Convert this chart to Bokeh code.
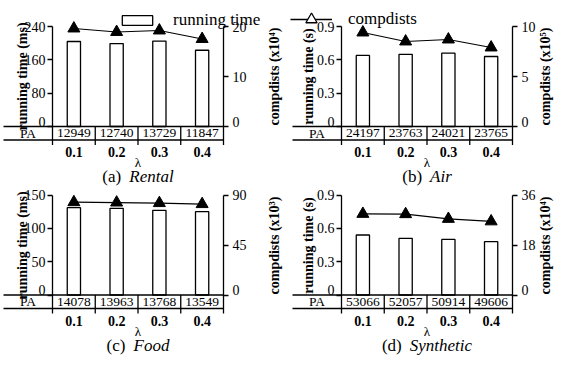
from bokeh.plotting import figure
from bokeh.layouts import column, row
from bokeh.models import Range1d, LinearAxis, FixedTicker, Legend, LegendItem
from bokeh.core.properties import value
from bokeh.embed import file_html
from bokeh.resources import INLINE

FONT = "Liberation Serif"

lambdas = ["0.1", "0.2", "0.3", "0.4"]

rental_time = [204, 199, 205, 183]
rental_comp = [19.6, 18.9, 19.2, 17.5]
rental_pa = [12949, 12740, 13729, 11847]

air_time = [0.64, 0.65, 0.66, 0.63]
air_comp = [9.4, 8.5, 8.7, 7.9]
air_pa = [24197, 23763, 24021, 23765]

food_time = [131, 130, 127, 125]
food_comp = [83.5, 83.2, 82.7, 81.8]
food_pa = [14078, 13963, 13768, 13549]

syn_time = [0.54, 0.51, 0.50, 0.48]
syn_comp = [29.2, 29.1, 27.4, 26.5]
syn_pa = [53066, 52057, 50914, 49606]

ms_ticks_a = [0, 80, 160, 240]
ms_ticks_c = [0, 50, 100, 150]
s_ticks = [0, 0.3, 0.6, 0.9]
comp_ticks_a = [0, 10, 20]
comp_ticks_b = [0, 5, 10]
comp_ticks_c = [0, 45, 90]
comp_ticks_d = [0, 18, 36]

PX = 42.75          # pixels per lambda slot
CHART_H = 100       # pixels from 0 to the top tick
LAB_SHIFT = 18      # distance from a label axis location to its label centre

REG = {"(": 0.333, ")": 0.333, "a": 0.444, "b": 0.5, "c": 0.444, "d": 0.5}
ITA = {"R": 0.611, "e": 0.444, "n": 0.5, "t": 0.278, "a": 0.5, "l": 0.278,
       "A": 0.611, "i": 0.278, "r": 0.389, "F": 0.611, "o": 0.5, "d": 0.5,
       "S": 0.5, "y": 0.444, "h": 0.5, "c": 0.444}


def tw(s, tab, size):
    return sum(tab.get(ch, 0.5) for ch in s) * size


def tick_axis(ax):
    ax.major_label_text_font = FONT
    ax.major_label_text_font_size = "14px"
    ax.major_label_text_color = "black"
    ax.major_tick_out = 5
    ax.major_tick_in = 0
    ax.minor_tick_out = 0
    ax.minor_tick_in = 0
    ax.axis_line_width = 1.3
    ax.major_tick_line_width = 1.3
    ax.axis_line_color = "black"
    ax.major_tick_line_color = "black"
    ax.major_label_overrides = {0: ""}


def label_axis(p, text, loc):
    ax = LinearAxis(y_range_name="px", ticker=FixedTicker(ticks=[]), bounds=(0, CHART_H),
                    fixed_location=loc, axis_label=text, axis_label_standoff=0,
                    major_tick_out=0, major_tick_in=0, minor_tick_out=0, minor_tick_in=0,
                    axis_line_color=None, major_tick_line_color=None, minor_tick_line_color=None)
    ax.axis_label_text_font = FONT
    ax.axis_label_text_font_size = "14px"
    ax.axis_label_text_font_style = "bold"
    ax.axis_label_text_color = "black"
    p.add_layout(ax, "left")


def txt(p, xs, ys, texts, size, style="normal", align="center", x_offset=0):
    p.text(x=xs, y=ys, text=texts, y_range_name="px", x_offset=x_offset,
           text_font=value(FONT), text_font_size=size, text_font_style=style,
           text_align=align, text_baseline="middle", text_color="black")


def make_panel(times, comps, pa, t_ticks, t_label, c_ticks, c_label, letter, name,
               width, height, axis_px, top_px, left_lab, right_lab):
    n = len(times)
    xs = list(range(n))
    x0 = -0.5 - axis_px / PX
    tmax = t_ticks[-1]
    cmax = c_ticks[-1]
    below = height - top_px - CHART_H
    p = figure(width=width, height=height, title=None,
               x_range=Range1d(x0, x0 + width / PX),
               y_range=Range1d(-below * tmax / CHART_H, tmax + top_px * tmax / CHART_H),
               x_axis_location=None, y_axis_location=None,
               output_backend="svg", toolbar_location=None, min_border=0)
    p.grid.visible = False
    p.outline_line_color = None
    p.background_fill_color = None
    p.border_fill_color = None
    p.extra_y_ranges = {
        "comp": Range1d(-below * cmax / CHART_H, cmax + top_px * cmax / CHART_H),
        "px": Range1d(-below, CHART_H + top_px),
    }
    # bars and line
    p.vbar(x=xs, top=times, width=0.31, fill_color="white", line_color="black",
           line_width=1.3)
    p.line(xs, comps, y_range_name="comp", line_color="black", line_width=1.2)
    p.scatter(xs, comps, y_range_name="comp", marker="triangle", size=12,
              fill_color="black", line_color="black")
    # axes
    yl = LinearAxis(ticker=FixedTicker(ticks=t_ticks), bounds=(0, tmax), fixed_location=-0.5)
    tick_axis(yl)
    yl.major_label_standoff = 2
    p.add_layout(yl, "left")
    yr = LinearAxis(y_range_name="comp", ticker=FixedTicker(ticks=c_ticks), bounds=(0, cmax),
                    fixed_location=n - 0.5)
    tick_axis(yr)
    yr.major_label_standoff = 4
    p.add_layout(yr, "right")
    label_axis(p, t_label, -0.5 - (left_lab - LAB_SHIFT) / PX)
    label_axis(p, c_label, n - 0.5 + (right_lab + LAB_SHIFT) / PX)
    txt(p, [-0.5], [5], ["0"], "14px", align="right", x_offset=-7)
    txt(p, [n - 0.5], [5], ["0"], "14px", align="left", x_offset=9)
    # PA table
    left = -0.5 - 49 / PX
    edge = n - 0.5
    p.segment(x0=[left, left], y0=[0, -13.5], x1=[edge, edge], y1=[0, -13.5],
              y_range_name="px", line_color="black", line_width=1.3)
    bnd = [i - 0.5 for i in range(n + 1)]
    p.segment(x0=bnd, y0=[0] * (n + 1), x1=bnd, y1=[-18.5] * (n + 1),
              y_range_name="px", line_color="black", line_width=1.3)
    txt(p, [(left - 0.5) / 2], [-6.5], ["PA"], "13.5px")
    txt(p, xs, [-6.5] * n, [str(v) for v in pa], "13.5px")
    txt(p, xs, [-25.5] * n, lambdas, "14px", style="bold")
    txt(p, [(n - 1) / 2], [-36], ["λ"], "13px")
    cap1 = "(" + letter + ")"
    w1 = tw(cap1, REG, 17)
    w2 = tw(name, ITA, 17)
    gap = 8
    start = -(w1 + gap + w2) / 2
    txt(p, [(n - 1) / 2], [-50], [cap1], "17px", align="left", x_offset=start)
    txt(p, [(n - 1) / 2], [-50], [name], "17px", style="italic", align="left",
        x_offset=start + w1 + gap)
    return p


ROW1_H = 187
ROW2_H = 168

pa_ = make_panel(rental_time, rental_comp, rental_pa, ms_ticks_a, "running time (ms)",
                 comp_ticks_a, "compdists (x10⁴)", "a", "Rental", 283, ROW1_H, 52, 26, 41, 40)
pb_ = make_panel(air_time, air_comp, air_pa, s_ticks, "running time (s)",
                 comp_ticks_b, "compdists (x10⁵)", "b", "Air", 272, ROW1_H, 58, 26, 44, 22)
pc_ = make_panel(food_time, food_comp, food_pa, ms_ticks_c, "running time (ms)",
                 comp_ticks_c, "compdists (x10³)", "c", "Food", 283, ROW2_H, 52, 7.5, 41, 40)
pd_ = make_panel(syn_time, syn_comp, syn_pa, s_ticks, "running time (s)",
                 comp_ticks_d, "compdists (x10⁴)", "d", "Synthetic", 272, ROW2_H, 58, 7.5, 44, 22)

# legend keys (drawn off-range so only the legend shows them)
rb = pa_.vbar(x=[50], top=[-500], bottom=[-600], width=0.1, fill_color="white",
              line_color="black", line_width=1.3)
rl = pb_.line(x=[50, 51], y=[-5, -5], line_color="black", line_width=1.3)
rt = pb_.scatter(x=[50], y=[-5], marker="triangle", size=11, fill_color="white",
                 line_color="black", line_width=1.3)
common = dict(orientation="horizontal", padding=0, margin=0, border_line_color=None,
              background_fill_alpha=0, label_text_font=FONT, label_text_font_size="17px",
              label_text_color="black", spacing=0)
leg1 = Legend(items=[LegendItem(label="running time", renderers=[rb])],
              location=(118, ROW1_H - 19.2 - 10.5),
              glyph_width=38, glyph_height=12, label_height=12, label_standoff=17, **common)
leg2 = Legend(items=[LegendItem(label="compdists", renderers=[rl, rt])],
              location=(7, ROW1_H - 22.3 - 10.5),
              glyph_width=42, glyph_height=28, label_height=28, label_standoff=16, **common)
pa_.add_layout(leg1)
pb_.add_layout(leg2)

layout = column(row(pa_, pb_), row(pc_, pd_))

open("out.html", "w").write(file_html(layout, INLINE))
